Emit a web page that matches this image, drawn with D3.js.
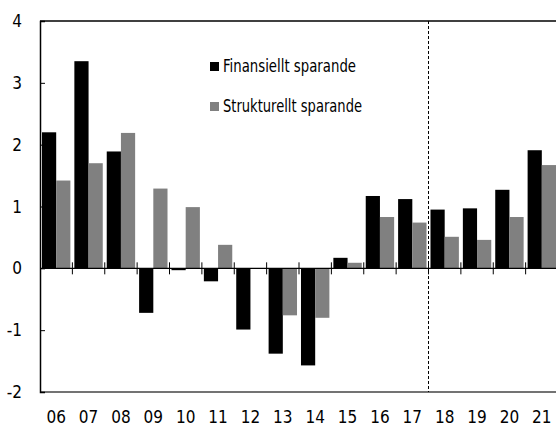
<!DOCTYPE html>
<html>
<head>
<meta charset="utf-8">
<script src="https://cdn.jsdelivr.net/npm/d3@7"></script>
<style>
	body { margin: 0; background: #fff; }
	text { font-family: "Liberation Sans Narrow", "DejaVu Sans Condensed", sans-serif; }
</style>
</head>
<body>
<svg id="chart"></svg>
<script>
/* Data */
var years = ["06", "07", "08", "09", "10", "11", "12", "13", "14", "15", "16", "17", "18", "19", "20", "21"];
var finansiellt = [2.20, 3.35, 1.89, -0.72, -0.03, -0.21, -0.99, -1.38, -1.57, 0.17, 1.17, 1.12, 0.95, 0.97, 1.27, 1.91];
var strukturellt = [1.42, 1.70, 2.19, 1.29, 0.99, 0.38, 0, -0.76, -0.80, 0.09, 0.83, 0.74, 0.51, 0.46, 0.83, 1.67];
var yTicks = [-2, -1, 0, 1, 2, 3, 4];
var seriesNames = ["Finansiellt sparande", "Strukturellt sparande"];
var seriesColors = ["#000000", "#808080"];
var forecastStart = "18";

var width = 556,
	height = 426;
var margin = {top: 21, right: -2, bottom: 34, left: 40};

var svg = d3.select("#chart")
	.attr("width", width)
	.attr("height", height);

var x = d3.scaleBand()
	.domain(years)
	.range([margin.left, width - margin.right]);

var xInner = d3.scaleBand()
	.domain([0, 1])
	.range([0, x.bandwidth()])
	.paddingOuter(0.14)
	.paddingInner(0);

var y = d3.scaleLinear()
	.domain([-2, 4])
	.range([height - margin.bottom, margin.top]);

/* Bars */
var series = [finansiellt, strukturellt];
series.forEach(function(vals, s) {
	svg.append("g")
		.selectAll("rect")
		.data(vals)
		.enter().append("rect")
		.attr("x", function(d, i) { return x(years[i]) + xInner(s); })
		.attr("y", function(d) { return y(Math.max(0, d)); })
		.attr("width", xInner.bandwidth())
		.attr("height", function(d) { return Math.abs(y(d) - y(0)); })
		.attr("fill", seriesColors[s]);
});

/* Frame */
svg.append("line")
	.attr("x1", margin.left).attr("x2", width)
	.attr("y1", y(4)).attr("y2", y(4))
	.attr("stroke", "#000").attr("stroke-width", 1.5);

svg.append("line")
	.attr("x1", margin.left).attr("x2", width)
	.attr("y1", y(-2)).attr("y2", y(-2))
	.attr("stroke", "#444").attr("stroke-width", 1.5);

/* Y axis */
var yAxis = svg.append("g")
	.attr("transform", "translate(" + margin.left + ",0)")
	.call(d3.axisRight(y).tickValues(yTicks).tickSize(5).tickFormat(""));
yAxis.select(".domain").attr("stroke", "#000").attr("stroke-width", 1.5);
yAxis.selectAll(".tick line").attr("stroke", "#000");

svg.append("g")
	.selectAll("text")
	.data(yTicks)
	.enter().append("text")
	.attr("x", 22)
	.attr("y", function(d) { return y(d); })
	.attr("dy", "0.36em")
	.attr("text-anchor", "end")
	.attr("font-size", 17)
	.attr("fill", "#000")
	.text(function(d) { return d; });

/* Zero line with category ticks */
svg.append("line")
	.attr("x1", margin.left).attr("x2", width)
	.attr("y1", y(0)).attr("y2", y(0))
	.attr("stroke", "#000").attr("stroke-width", 1.2);

svg.append("g")
	.selectAll("line")
	.data(years.slice(1))
	.enter().append("line")
	.attr("x1", function(d) { return x(d); })
	.attr("x2", function(d) { return x(d); })
	.attr("y1", y(0) - 6)
	.attr("y2", y(0) + 6)
	.attr("stroke", "#000")
	.attr("stroke-width", 1);

/* X labels */
svg.append("g")
	.selectAll("text")
	.data(years)
	.enter().append("text")
	.attr("x", function(d) { return x(d) + x.bandwidth() / 2; })
	.attr("y", 423)
	.attr("text-anchor", "middle")
	.attr("font-size", 17)
	.attr("fill", "#000")
	.text(function(d) { return d; });

/* Forecast divider */
svg.append("line")
	.attr("x1", x(forecastStart)).attr("x2", x(forecastStart))
	.attr("y1", y(4)).attr("y2", y(-2))
	.attr("stroke", "#000")
	.attr("stroke-width", 1)
	.attr("stroke-dasharray", "3,2");

/* Legend */
var legend = svg.append("g")
	.selectAll("g")
	.data(seriesNames)
	.enter().append("g")
	.attr("transform", function(d, i) { return "translate(210," + (62 + i * 40) + ")"; });

legend.append("rect")
	.attr("width", 9)
	.attr("height", 9)
	.attr("fill", function(d, i) { return seriesColors[i]; });

legend.append("text")
	.attr("x", 13)
	.attr("y", 10)
	.attr("font-size", 18)
	.attr("textLength", function(d, i) { return i === 0 ? 133 : 139; })
	.attr("lengthAdjust", "spacingAndGlyphs")
	.attr("fill", "#000")
	.text(function(d) { return d; });
</script>
</body>
</html>
